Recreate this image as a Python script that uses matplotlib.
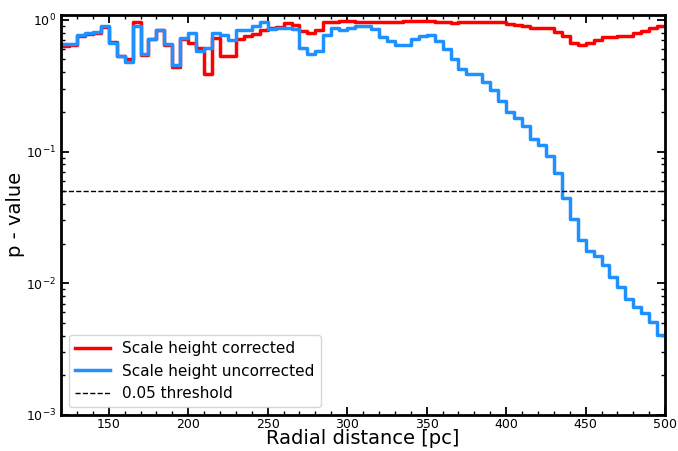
import numpy as np
import matplotlib
matplotlib.use('Agg')
import matplotlib.pyplot as plt
from matplotlib.ticker import MultipleLocator

# bin edges in pc (5 pc bins from 120 to 500)
bin_lo = np.arange(120, 500, 5)

# p-values per bin
p_corrected = [
    0.63, 0.64, 0.75, 0.78, 0.80, 0.88, 0.68, 0.53, 0.50, 0.955,   # 120-165
    0.54, 0.71, 0.83, 0.64, 0.44, 0.71, 0.665, 0.61, 0.39, 0.73,   # 170-215
    0.53, 0.53, 0.71, 0.76, 0.78, 0.84, 0.87, 0.88, 0.95, 0.92,    # 220-265
    0.82, 0.795, 0.83, 0.96, 0.97, 0.975, 0.98, 0.97, 0.96, 0.96,  # 270-315
    0.97, 0.97, 0.97, 0.98, 0.98, 0.98, 0.98, 0.97, 0.96, 0.95,    # 320-365
    0.955, 0.96, 0.97, 0.97, 0.96, 0.96, 0.93, 0.915, 0.90, 0.87,  # 370-415
    0.865, 0.86, 0.81, 0.75, 0.67, 0.64, 0.665, 0.705, 0.735, 0.74, # 420-465
    0.755, 0.76, 0.79, 0.825, 0.86, 0.89,                          # 470-495
]
p_uncorrected = [
    0.65, 0.65, 0.77, 0.80, 0.81, 0.89, 0.665, 0.53, 0.48, 0.90,   # 120-165
    0.55, 0.71, 0.83, 0.65, 0.455, 0.725, 0.79, 0.575, 0.61, 0.79, # 170-215
    0.77, 0.70, 0.83, 0.835, 0.90, 0.955, 0.85, 0.86, 0.86, 0.85,  # 220-265
    0.61, 0.55, 0.58, 0.77, 0.86, 0.83, 0.86, 0.89, 0.89, 0.85,    # 270-315
    0.74, 0.685, 0.645, 0.645, 0.71, 0.75, 0.77, 0.685, 0.60, 0.50, # 320-365
    0.42, 0.387, 0.39, 0.34, 0.294, 0.24, 0.198, 0.179, 0.155, 0.124, # 370-415
    0.112, 0.092, 0.0685, 0.044, 0.031, 0.0214, 0.0177, 0.0161, 0.0138, 0.0111, # 420-465
    0.00944, 0.00757, 0.00658, 0.00593, 0.00512, 0.00406,          # 470-495
]
threshold = 0.05

# step arrays (post), last value repeated up to 500
x_step = np.append(bin_lo, 500)
y_corr = np.append(p_corrected, p_corrected[-1])
y_unc = np.append(p_uncorrected, p_uncorrected[-1])

fig = plt.figure(figsize=(6.78, 4.51), dpi=100)
ax = fig.add_axes([0.090, 0.080, 0.891, 0.887])

ax.step(x_step, y_corr, where='post', color='red', lw=2.5, label='Scale height corrected')
ax.step(x_step, y_unc, where='post', color='dodgerblue', lw=2.5, label='Scale height uncorrected')
ax.axhline(threshold, color='k', ls='--', lw=1.0, label='0.05 threshold')

ax.set_yscale('log')
ax.set_xlim(120, 500)
ax.set_ylim(1e-3, 1.09)
ax.xaxis.set_major_locator(MultipleLocator(50))
ax.xaxis.set_minor_locator(MultipleLocator(10))

ax.tick_params(which='both', direction='in', top=True, right=True, labelsize=9)
ax.tick_params(axis='x', which='both', pad=2)
ax.tick_params(which='major', length=6, width=1.3)
ax.tick_params(which='minor', length=3, width=1.0)
for sp in ax.spines.values():
    sp.set_linewidth(2)

ax.set_xlabel('Radial distance [pc]', fontsize=14, labelpad=-1)
ax.set_ylabel('p - value', fontsize=14, labelpad=1)
ax.legend(loc='lower left', fontsize=11, handlelength=2.3)

fig.savefig('out.png', dpi=100)
